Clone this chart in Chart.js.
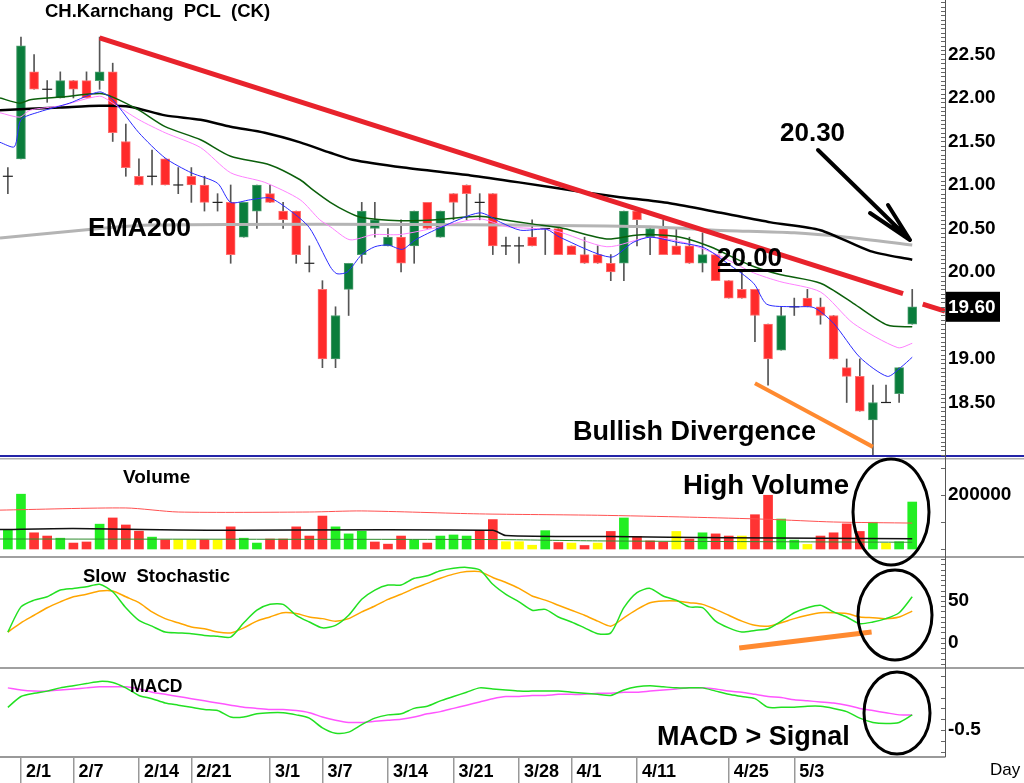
<!DOCTYPE html>
<html>
<head>
<meta charset="utf-8">
<script src="https://cdn.jsdelivr.net/npm/chart.js@4.4.1/dist/chart.umd.min.js"></script>
<style>
  html, body { margin: 0; padding: 0; background: #fff; }
  #wrap { position: relative; width: 1024px; height: 783px; }
</style>
</head>
<body>
<div id="wrap"><canvas id="ck"></canvas></div>
<script>
// date ticks (trading-day index -> label)
const tickIdx  = [1, 5, 10, 14, 20, 24, 29, 34, 39, 43, 48, 55, 60];
const tickDays = ['2/1', '2/7', '2/14', '2/21', '3/1', '3/7', '3/14', '3/21', '3/28', '4/1', '4/11', '4/25', '5/3'];

// daily OHLC
const open  = [21.1, 21.3, 22.3, 22.1, 22.0, 22.2, 22.2, 22.2, 22.3, 21.5, 21.1, 21.1, 21.3, 21.0, 21.1, 21.0, 20.8, 20.8, 20.4, 20.7,
               20.9, 20.7, 20.7, 20.1, 19.8, 19.0, 19.8, 20.2, 20.5, 20.3, 20.4, 20.3, 20.8, 20.4, 20.9, 21.0, 20.8, 20.9, 20.3, 20.3,
               20.4, 20.5, 20.5, 20.3, 20.2, 20.2, 20.1, 20.1, 20.7, 20.4, 20.5, 20.3, 20.3, 20.1, 20.2, 19.9, 19.8, 19.8, 19.4, 19.1,
               19.6, 19.7, 19.6, 19.5, 18.9, 18.8, 18.3, 18.5, 18.6, 19.4];
const high  = [21.2, 22.7, 22.5, 22.2, 22.3, 22.2, 22.3, 22.7, 22.4, 21.7, 21.3, 21.4, 21.3, 21.2, 21.2, 21.1, 20.9, 21.0, 20.8, 21.0,
               21.0, 20.8, 20.7, 20.3, 19.9, 19.6, 20.1, 20.8, 20.8, 20.5, 20.6, 20.7, 20.8, 20.7, 20.9, 21.0, 20.9, 20.9, 20.4, 20.4,
               20.6, 20.5, 20.5, 20.3, 20.4, 20.3, 20.2, 20.7, 20.7, 20.5, 20.6, 20.5, 20.4, 20.45, 20.2, 19.9, 20.0, 19.8, 19.4, 19.6,
               19.7, 19.8, 19.7, 19.5, 19.0, 19.0, 18.7, 18.7, 18.9, 19.8];
const low   = [20.9, 21.3, 22.1, 21.95, 22.0, 22.0, 22.0, 22.1, 21.5, 21.1, 21.0, 21.0, 21.0, 20.9, 20.8, 20.7, 20.7, 20.1, 20.4, 20.5,
               20.8, 20.5, 20.1, 20.0, 18.9, 18.9, 19.5, 20.1, 20.4, 20.3, 20.0, 20.1, 20.5, 20.4, 20.6, 20.6, 20.6, 20.2, 20.2, 20.1,
               20.3, 20.2, 20.2, 20.2, 20.1, 20.1, 19.9, 19.9, 20.3, 20.2, 20.2, 20.2, 20.1, 20.0, 19.9, 19.7, 19.7, 19.2, 18.7, 19.1,
               19.5, 19.6, 19.4, 19.0, 18.5, 18.4, 17.9, 18.5, 18.5, 19.4];
const close = [21.1, 22.6, 22.1, 22.1, 22.2, 22.1, 22.0, 22.3, 21.6, 21.2, 21.0, 21.1, 21.0, 21.0, 21.0, 20.8, 20.8, 20.2, 20.8, 21.0,
               20.8, 20.6, 20.2, 20.1, 19.0, 19.5, 20.1, 20.7, 20.6, 20.4, 20.1, 20.7, 20.5, 20.7, 20.8, 20.9, 20.8, 20.3, 20.3, 20.3,
               20.3, 20.5, 20.2, 20.2, 20.1, 20.1, 20.0, 20.7, 20.6, 20.5, 20.2, 20.2, 20.1, 20.2, 19.9, 19.7, 19.7, 19.5, 19.0, 19.5,
               19.6, 19.6, 19.5, 19.0, 18.8, 18.4, 18.5, 18.5, 18.9, 19.6];

// moving averages as [day index, price]
const ema5   = [[-0.6, 21.49], [0.5, 21.44], [1, 21.75], [2.4, 21.84], [4.7, 21.94], [7, 22.07], [8, 21.98], [10, 21.60], [12, 21.31],
                [14, 21.14], [16, 21.02], [17, 20.80], [18.5, 20.83], [20, 20.85], [21.5, 20.71], [23, 20.51], [24.6, 20.06], [25.1, 19.98],
                [25.9, 20.00], [27, 20.20], [28, 20.29], [29, 20.31], [30.1, 20.26], [31.1, 20.37], [33, 20.51], [36, 20.68], [37.6, 20.57],
                [39.1, 20.48], [41.1, 20.49], [42.1, 20.40], [46, 20.17], [47.7, 20.34], [49, 20.40], [51.1, 20.34], [53.1, 20.28],
                [54.9, 20.10], [56.9, 19.87], [57.9, 19.63], [59.9, 19.60], [61.5, 19.59], [63, 19.41], [65, 19.02], [67.1, 18.80],
                [68.1, 18.90], [69, 19.02]];
const ema10  = [[-0.6, 21.83], [0.9, 21.78], [1.7, 21.86], [4, 21.91], [7, 22.02], [8, 21.94], [10, 21.75], [12, 21.60], [14.7, 21.43],
                [17, 21.14], [19.6, 21.03], [22.3, 20.83], [23.8, 20.60], [24.6, 20.52], [26.1, 20.37], [27.9, 20.43], [29.9, 20.43],
                [32.7, 20.51], [36, 20.61], [38.1, 20.52], [41.6, 20.48], [45.7, 20.29], [49, 20.40], [51.8, 20.33], [54.1, 20.20],
                [56.9, 19.99], [58.9, 19.89], [62, 19.77], [64.5, 19.41], [67.9, 19.13], [69, 19.18]];
const ema20  = [[-0.6, 22.00], [0.9, 21.94], [1.7, 21.98], [4, 22.01], [7, 22.05], [8, 22.01], [10, 21.86], [12, 21.67], [14.7, 21.52],
                [17, 21.33], [20, 21.23], [22.3, 21.06], [23.3, 20.94], [24.6, 20.80], [25.9, 20.69], [26.9, 20.63], [29.9, 20.59],
                [32.7, 20.60], [36, 20.64], [37.8, 20.60], [40.1, 20.55], [42.1, 20.51], [45.7, 20.38], [47.7, 20.42], [49, 20.43],
                [51.3, 20.40], [53.6, 20.29], [56.6, 20.08], [58.9, 19.97], [62, 19.87], [64.5, 19.64], [67.1, 19.39], [69, 19.37]];
const ema50  = [[-0.6, 21.86], [4, 21.89], [7, 21.91], [9.3, 21.90], [12, 21.80], [14.7, 21.75], [17, 21.67], [19.6, 21.60],
                [22.3, 21.49], [24.6, 21.37], [26.3, 21.29], [30.2, 21.20], [35.3, 21.11], [39, 21.03], [44.2, 20.91], [46.7, 20.86],
                [50.5, 20.79], [54.4, 20.68], [58.2, 20.57], [62, 20.48], [65.8, 20.24], [69, 20.14]];
const ema200 = [[-0.6, 20.39], [7, 20.50], [11, 20.54], [24, 20.55], [38, 20.54], [49, 20.52], [54, 20.48], [60, 20.45],
                [64, 20.40], [69, 20.31]];

// volume and its averages
const volume = [70000, 203000, 60000, 48000, 40000, 22000, 26000, 92000, 115000, 89000, 66000, 44000, 34000, 34000, 34000, 34000, 33000,
                82000, 40000, 22000, 37000, 37000, 82000, 48000, 122000, 82000, 56000, 66000, 26000, 18000, 48000, 34000, 22000, 48000,
                52000, 48000, 69000, 109000, 27000, 27000, 14000, 68000, 24000, 22000, 13000, 22000, 65000, 115000, 47000, 30000,
                26000, 65000, 37000, 60000, 56000, 48000, 48000, 127000, 199000, 111000, 33000, 17000, 48000, 60000, 93000, 65000,
                99000, 21000, 27000, 174000];
const volTone = ['g', 'g', 'r', 'r', 'g', 'r', 'r', 'g', 'r', 'r', 'r', 'g', 'r', 'y', 'y', 'r', 'y', 'r', 'g', 'g',
                 'r', 'r', 'r', 'r', 'r', 'g', 'g', 'g', 'r', 'r', 'r', 'g', 'r', 'g', 'g', 'g', 'r', 'r', 'y', 'y',
                 'y', 'g', 'r', 'y', 'r', 'y', 'r', 'g', 'r', 'r', 'r', 'y', 'r', 'g', 'r', 'r', 'y', 'r', 'r', 'g',
                 'g', 'y', 'r', 'r', 'r', 'r', 'g', 'y', 'g', 'g'];
const volAvgLong  = [[-0.6, 144000], [9, 152000], [13, 137000], [23, 137000], [27, 141000], [36, 130000], [45, 125000],
                     [52, 118000], [58, 110000], [63, 100000], [69, 96000]];
const volAvgMid   = [[-0.6, 72000], [5, 76000], [13, 70000], [37, 69000], [38, 50000], [46, 46000], [55, 42000], [69, 38000]];
const volAvgShort = [[-0.6, 37000], [20, 36000], [37, 35000], [45, 30000], [58, 27000], [69, 25000]];

// slow stochastic %K / %D
const stochK = [13, 43, 51, 55, 63, 65, 67, 70, 61, 42, 27, 20, 13, 12, 11, 9, 8, 7, 24, 39,
                46, 46, 33, 25, 18, 21, 33, 52, 63, 69, 69, 77, 80, 86, 89, 90, 87, 70, 58, 49,
                39, 40, 31, 25, 18, 11, 12, 42, 60, 65, 56, 51, 43, 42, 26, 18, 13, 15, 17, 26,
                36, 42, 45, 37, 31, 23, 25, 29, 36, 55];
const stochD = [13, 24, 33, 42, 49, 55, 58, 62, 62, 55, 48, 37, 29, 24, 19, 17, 13, 12, 18, 26,
                31, 36, 35, 31, 29, 26, 29, 37, 44, 52, 58, 65, 71, 77, 82, 85, 85, 78, 72, 65,
                56, 51, 45, 39, 33, 26, 20, 30, 40, 48, 50, 50, 48, 46, 40, 33, 26, 21, 20, 24,
                29, 33, 36, 36, 35, 31, 30, 29, 31, 38];

// MACD and signal
const macd   = [-0.29, -0.19, -0.16, -0.14, -0.11, -0.09, -0.07, -0.05, -0.06, -0.11, -0.18, -0.21, -0.25, -0.27, -0.29, -0.31, -0.32, -0.38, -0.38, -0.35,
                -0.34, -0.34, -0.36, -0.39, -0.48, -0.53, -0.52, -0.45, -0.39, -0.36, -0.35, -0.30, -0.28, -0.23, -0.19, -0.15, -0.11, -0.12, -0.13, -0.14,
                -0.14, -0.14, -0.14, -0.15, -0.16, -0.17, -0.18, -0.13, -0.10, -0.09, -0.10, -0.11, -0.11, -0.11, -0.14, -0.17, -0.19, -0.21, -0.29, -0.29,
                -0.29, -0.28, -0.28, -0.30, -0.33, -0.39, -0.43, -0.44, -0.43, -0.36];
const signal = [-0.11, -0.13, -0.14, -0.14, -0.13, -0.12, -0.11, -0.10, -0.10, -0.10, -0.12, -0.15, -0.17, -0.19, -0.21, -0.23, -0.25, -0.27, -0.29, -0.30,
                -0.31, -0.31, -0.32, -0.34, -0.38, -0.41, -0.43, -0.43, -0.42, -0.41, -0.40, -0.38, -0.35, -0.33, -0.30, -0.27, -0.24, -0.21, -0.19, -0.19,
                -0.18, -0.18, -0.17, -0.17, -0.17, -0.16, -0.16, -0.15, -0.15, -0.14, -0.13, -0.12, -0.11, -0.11, -0.12, -0.14, -0.15, -0.17, -0.19, -0.20,
                -0.22, -0.23, -0.24, -0.25, -0.27, -0.30, -0.32, -0.34, -0.36, -0.36];

// hand-drawn trend lines: [day index, value]
const downTrend    = [[7, 22.69], [68.3, 19.75]];
const downTrendExt = [[69.8, 19.63], [71.5, 19.55]];
const priceDiv     = [[57.0, 18.72], [66.0, 17.99]];
const stochDiv     = [[55.8, -6], [65.9, 13]];

const FONT = '"Liberation Sans", Arial, sans-serif';
const pts = arr => arr.map(p => ({ x: p[0], y: p[1] }));
const days = close.map((c, i) => i);

const toneColor = { r: '#ff3333', g: '#22ee22', y: '#ffff00' };

function lineSet(data, axis, color, width) {
  return {
    type: 'line', data: data, yAxisID: axis, borderColor: color, borderWidth: width,
    pointRadius: 0, tension: 0.25, fill: false
  };
}

const axisLabels = {
  price: [18.5, 19.0, 20.0, 20.5, 21.0, 21.5, 22.0, 22.5],
  vol: [200000],
  stoch: [0, 50],
  macd: [-0.5]
};

// no edge padding, so panes fill the canvas exactly
function noPad(a) {
  a.paddingTop = 0; a.paddingBottom = 0; a.paddingLeft = 0; a.paddingRight = 0;
}

const paneDecor = {
  id: 'paneDecor',
  afterDraw(chart) {
    const ctx = chart.ctx;
    const sc = chart.scales;
    const axisX = chart.chartArea.right;
    ctx.save();

    // pane separators
    ctx.fillStyle = '#2424a8';
    ctx.fillRect(0, sc.price.bottom - 1, 1024, 2);
    ctx.fillStyle = '#b0b0b0';
    ctx.fillRect(0, sc.price.bottom + 2, 1024, 1.5);
    ctx.fillStyle = '#a0a0a0';
    ctx.fillRect(0, sc.vol.bottom - 1, 1024, 2);
    ctx.fillRect(0, sc.stoch.bottom - 1, 1024, 2);

    // right axis line and fine ticks
    ctx.strokeStyle = '#555';
    ctx.lineWidth = 1;
    ctx.beginPath();
    ctx.moveTo(axisX + 0.5, 0);
    ctx.lineTo(axisX + 0.5, chart.chartArea.bottom);
    ctx.stroke();
    const minor = [['price', 0.05], ['vol', 100000], ['stoch', 6.25], ['macd', 0.1]];
    ctx.strokeStyle = '#666';
    minor.forEach(([id, step]) => {
      const s = sc[id];
      const n0 = Math.ceil(s.min / step), n1 = Math.floor(s.max / step);
      ctx.beginPath();
      for (let n = n0; n <= n1; n++) {
        const y = Math.round(s.getPixelForValue(n * step)) + 0.5;
        ctx.moveTo(axisX - 4, y);
        ctx.lineTo(axisX, y);
      }
      ctx.stroke();
    });

    // last price flag
    const yLast = sc.price.getPixelForValue(close[close.length - 1]);
    ctx.fillStyle = '#000';
    ctx.fillRect(axisX + 1, yLast - 15, 54, 30);
    ctx.fillStyle = '#fff';
    ctx.font = 'bold 19px ' + FONT;
    ctx.textBaseline = 'middle';
    ctx.textAlign = 'left';
    ctx.fillText(close[close.length - 1].toFixed(2), axisX + 3, yLast + 1);

    // captions
    ctx.fillStyle = '#000';
    const txt = (s, x, y, size, weight) => {
      ctx.font = (weight || 'bold') + ' ' + size + 'px ' + FONT;
      ctx.fillText(s, x, y);
    };
    txt('CH.Karnchang  PCL  (CK)', 45, 12, 18.5);
    txt('EMA200', 88, 229, 26.5);
    txt('20.30', 780, 134, 26);
    txt('20.00', 717, 259, 26);
    txt('Bullish Divergence', 573, 433, 27);
    txt('Volume', 123, 478, 19);
    txt('High Volume', 683, 486, 27.5);
    txt('Slow  Stochastic', 83, 577, 18.5);
    txt('MACD', 130, 687, 17.5);
    txt('MACD > Signal', 657, 738, 27);
    txt('Day', 990, 770, 17, 'normal');

    // underline under 20.00
    ctx.fillRect(718, 269, 64, 3);

    // arrow to 20.30
    ctx.strokeStyle = '#000';
    ctx.lineWidth = 4;
    ctx.lineCap = 'round';
    ctx.beginPath();
    ctx.moveTo(818, 150); ctx.lineTo(908, 238);
    ctx.moveTo(870, 213); ctx.lineTo(910, 240);
    ctx.moveTo(888, 205); ctx.lineTo(910, 240);
    ctx.stroke();

    // ellipses
    ctx.lineWidth = 3;
    [[891, 512, 38, 53], [895, 615, 37, 45], [897, 713, 33, 41]].forEach(([cx, cy, rx, ry]) => {
      ctx.beginPath();
      ctx.ellipse(cx, cy, rx, ry, 0, 0, Math.PI * 2);
      ctx.stroke();
    });
    ctx.restore();
  }
};

const wickData = days.map(i => ({ x: i, y: [low[i], high[i]] }));
const bodyDays = days.filter(i => open[i] !== close[i]);
const bodyData = bodyDays.map(i => ({ x: i, y: [open[i], close[i]] }));
const bodyColors = bodyDays.map(i => close[i] > open[i] ? '#0a7d3c' : '#ff2b2b');
const bodyEdges = bodyDays.map(i => close[i] > open[i] ? '#4f9e70' : '#ff7070');
const dojiData = days.filter(i => open[i] === close[i]).map(i => ({ x: i, y: close[i] }));

const yBase = {
  type: 'linear', position: 'right', stack: 'pane',
  grid: { display: false, drawTicks: false },
  border: { display: false },
  afterFit: a => { a.width = 79; noPad(a); }
};
function yAxis(id, weight, min, max, fmt) {
  return Object.assign({}, yBase, {
    stackWeight: weight, min: min, max: max,
    afterBuildTicks: a => { a.ticks = axisLabels[id].map(v => ({ value: v })); },
    ticks: { padding: 3, color: '#000', font: { family: FONT, size: 19, weight: 'bold' }, callback: fmt }
  });
}

new Chart(document.getElementById('ck'), {
  data: {
    datasets: [
      lineSet(pts(downTrend), 'price', '#e8232c', 5),
      lineSet(pts(downTrendExt), 'price', '#e8232c', 5),
      lineSet(pts(priceDiv), 'price', '#ff8a30', 4),
      lineSet(pts(stochDiv), 'stoch', '#ff8a30', 5),
      lineSet(pts(ema5), 'price', '#2a2aff', 1),
      lineSet(pts(ema10), 'price', '#ff80ff', 1),
      lineSet(pts(ema20), 'price', '#0b5f0b', 1.5),
      lineSet(pts(ema50), 'price', '#000000', 2.5),
      lineSet(pts(ema200), 'price', '#b4b4b4', 3),
      { type: 'scatter', data: dojiData, yAxisID: 'price', pointStyle: 'line', pointRadius: 5, pointHoverRadius: 5,
        borderColor: '#222', borderWidth: 1.2 },
      { type: 'bar', data: bodyData, yAxisID: 'price', grouped: false, barThickness: 9,
        backgroundColor: bodyColors, borderColor: bodyEdges, borderWidth: 1, borderSkipped: false },
      { type: 'bar', data: wickData, yAxisID: 'price', grouped: false, barThickness: 1,
        backgroundColor: '#555', borderWidth: 0 },
      lineSet(pts(volAvgShort), 'vol', '#2e8b2e', 1),
      lineSet(pts(volAvgMid), 'vol', '#111111', 1.5),
      lineSet(pts(volAvgLong), 'vol', '#ff5050', 1),
      { type: 'bar', data: days.map(i => ({ x: i, y: volume[i] })), yAxisID: 'vol', grouped: false,
        barThickness: 9, backgroundColor: volTone.map(t => toneColor[t]), borderWidth: 0 },
      lineSet(days.map(i => ({ x: i, y: stochK[i] })), 'stoch', '#22e022', 1.5),
      lineSet(days.map(i => ({ x: i, y: stochD[i] })), 'stoch', '#ffa500', 1.5),
      lineSet(days.map(i => ({ x: i, y: macd[i] })), 'macd', '#22e022', 1.5),
      lineSet(days.map(i => ({ x: i, y: signal[i] })), 'macd', '#ff55ff', 1.5)
    ]
  },
  options: {
    responsive: true,
    maintainAspectRatio: false,
    animation: false,
    layout: { padding: 0, autoPadding: false },
    plugins: { legend: { display: false }, tooltip: { enabled: false } },
    scales: {
      x: {
        type: 'linear', position: 'bottom', min: -0.6, max: 71.5, offset: false,
        afterBuildTicks: a => { a.ticks = tickIdx.map(v => ({ value: v })); },
        afterFit: a => { a.height = 26; noPad(a); },
        grid: { drawOnChartArea: false, offset: false, tickLength: 26, color: '#999', lineWidth: 1.5 },
        border: { color: '#999', width: 2 },
        ticks: {
          autoSkip: false, minRotation: 0, maxRotation: 0, align: 'start', padding: -22,
          color: '#000', font: { family: FONT, size: 18, weight: 'bold' },
          callback: (v, i) => ' ' + tickDays[i]
        }
      },
      price: yAxis('price', 456, 17.885, 23.126, v => v.toFixed(2)),
      vol:   yAxis('vol', 101, -29630, 344444, v => String(v)),
      stoch: yAxis('stoch', 111, -29.8, 102.4, v => String(v)),
      macd:  yAxis('macd', 89, -0.75, 0.074, v => v.toFixed(1))
    }
  },
  plugins: [paneDecor]
});
</script>
</body>
</html>
